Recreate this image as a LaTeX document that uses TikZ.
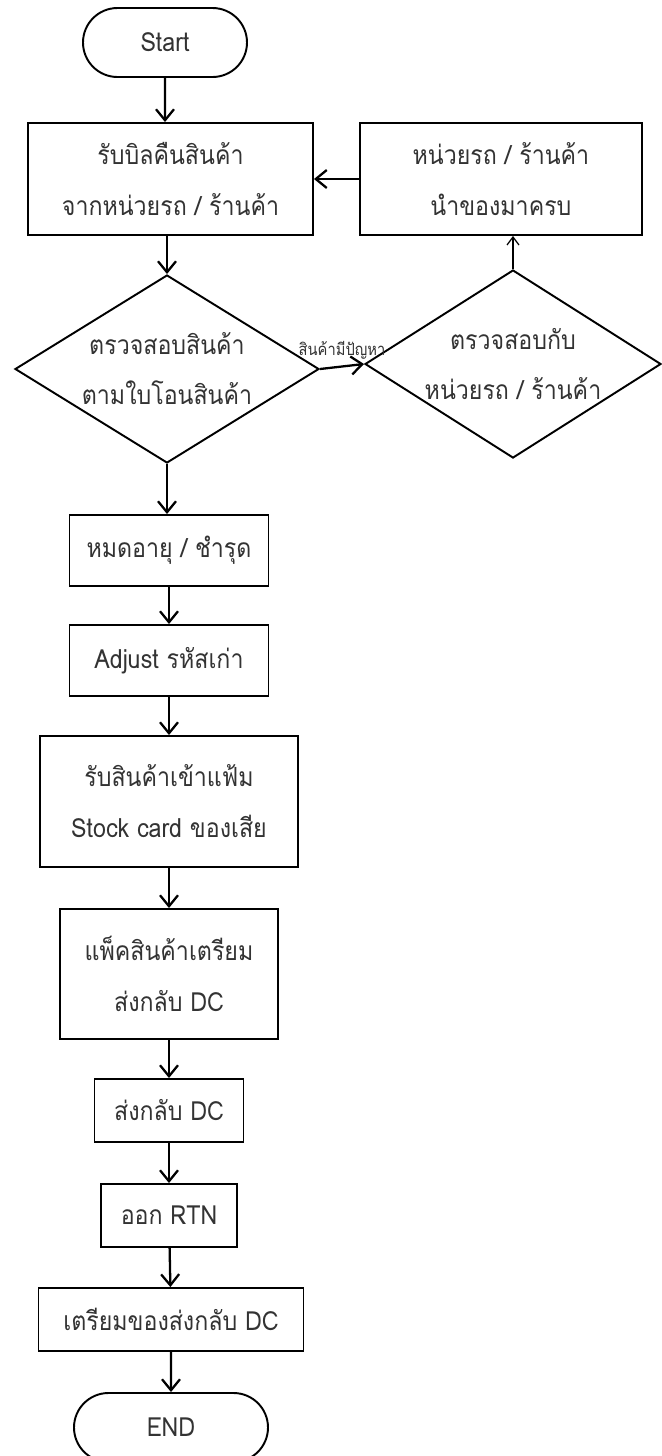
\documentclass[tikz,border=0pt]{standalone}
\usepackage{fontspec}
\setmainfont[Script=Thai, FakeStretch=0.88]{Loma}
\usepackage{tikz}
\usetikzlibrary{positioning,arrows.meta,shapes.geometric,shapes.misc}
\usepackage{xcolor}
\definecolor{ink}{HTML}{333333}
\tikzset{
  stepbox/.style={draw=black, line width=1.1pt, align=center, inner sep=0pt,
              text=ink, font=\fontsize{15}{29}\selectfont},
  checkbox/.style={diamond, aspect=1.6, draw=black, line width=1.1pt,
              align=center, inner sep=0pt, text=ink,
              font=\fontsize{15}{28.5}\selectfont},
  termbox/.style={rounded rectangle, draw=black, line width=1.1pt,
              inner sep=0pt, text=ink, font=\fontsize{15}{18}\selectfont},
  flow/.style={line width=1.3pt, -{Straight Barb[length=2.2mm, width=3.6mm]}},
  thinflow/.style={line width=0.7pt, -{Straight Barb[length=1.6mm, width=2.4mm]}},
}

\begin{document}
\begin{tikzpicture}[x=0.2mm, y=-0.2mm]
\path[use as bounding box, fill=white] (0,0) rectangle (662,1456);

% top row: intake and the loop back from the store check
\node[termbox, minimum width=32.8mm, minimum height=13.8mm] (start) at (165,42.5) {Start};
\node[stepbox, minimum width=57mm, minimum height=22.4mm] (bill) at (170.5,179)
  {รับบิลคืนสินค้า\\จากหน่วยรถ / ร้านค้า};
\node[stepbox, right=9mm of bill, minimum width=56.4mm, minimum height=22.4mm] (back)
  {หน่วยรถ / ร้านค้า\\นำของมาครบ};

% the two checks
\node[checkbox, minimum width=60.8mm, minimum height=37.6mm] (check) at (167,369)
  {ตรวจสอบสินค้า\\ตามใบโอนสินค้า};
\node[checkbox, minimum width=59.2mm, minimum height=37.6mm] (ask) at (513,364)
  {ตรวจสอบกับ\\หน่วยรถ / ร้านค้า};

% main column down to the end
\node[stepbox, minimum width=39.8mm, minimum height=14.2mm] (expired) at (169,550.5)
  {หมดอายุ / ชำรุด};
\node[stepbox, minimum width=39.8mm, minimum height=14.2mm] (adjust) at (169,660.5)
  {Adjust รหัสเก่า};
\node[stepbox, minimum width=51.6mm, minimum height=26.2mm] (stock) at (169,801.5)
  {รับสินค้าเข้าแฟ้ม\\Stock card ของเสีย};
\node[stepbox, minimum width=43.6mm, minimum height=26mm] (pack) at (169,974)
  {แพ็คสินค้าเตรียม\\ส่งกลับ DC};
\node[stepbox, minimum width=29.8mm, minimum height=12.6mm] (send) at (169,1110.5)
  {ส่งกลับ DC};
\node[stepbox, minimum width=27.2mm, minimum height=12.6mm] (rtn) at (169,1215.5)
  {ออก RTN};
\node[stepbox, minimum width=53mm, minimum height=12.6mm] (prep) at (171,1319.5)
  {เตรียมของส่งกลับ DC};
\node[termbox, minimum width=38.8mm, minimum height=13.8mm] (finish) at (171,1427.5)
  {END};

% connectors
\draw[flow] (start) -- (start |- bill.north);
\draw[flow] (back.west) -- (bill.east);
\draw[flow] (bill.south -| check.north) -- (check.north);
\draw[flow] (check.east) -- node[above=1.2mm, inner sep=0pt, text=ink,
  font=\fontsize{9.5}{11}\selectfont] (issue) {สินค้ามีปัญหา} (ask.west);
\draw[thinflow] (ask.north) -- (back.south -| ask.north);
\draw[flow] (check.south) -- (check.south |- expired.north);
\draw[flow] (expired) -- (adjust);
\draw[flow] (adjust) -- (stock);
\draw[flow] (stock) -- (pack);
\draw[flow] (pack) -- (send);
\draw[flow] (send) -- (rtn);
\draw[flow] (rtn) -- (prep);
\draw[flow] (prep) -- (finish);
\end{tikzpicture}
\end{document}
